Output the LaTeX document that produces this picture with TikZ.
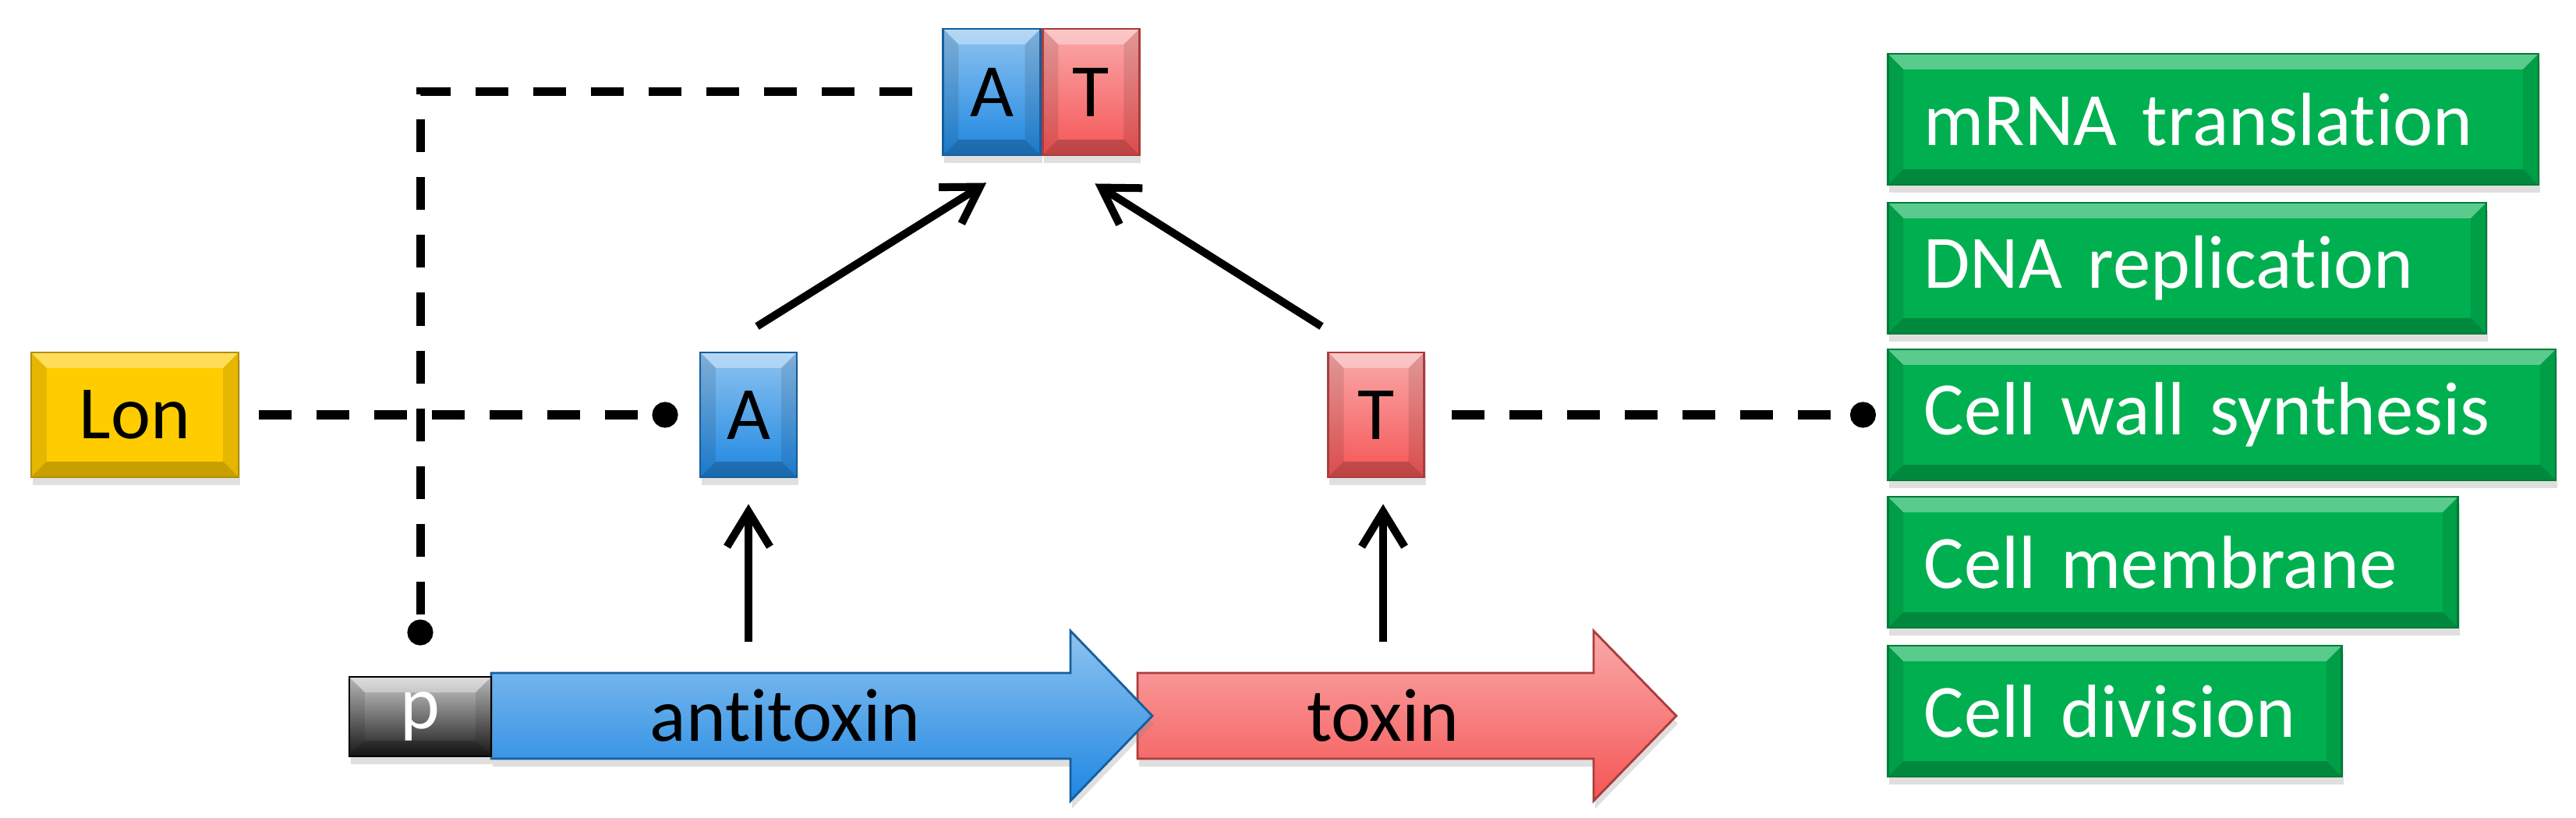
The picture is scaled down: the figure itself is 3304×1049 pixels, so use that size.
\documentclass[tikz,border=0pt]{standalone}
\usepackage{fontspec}
\setmainfont{Carlito}[Ligatures={TeX,NoCommon}]
\usetikzlibrary{arrows.meta,positioning,shadows}
\definecolor{atxblue}{RGB}{30,135,225}
\definecolor{txred}{RGB}{245,85,85}
\definecolor{lonyellow}{RGB}{255,204,0}
\definecolor{hitgreen}{RGB}{0,176,80}
\tikzset{
  bevel/.style={path picture={
      \fill[white,opacity=.35] (path picture bounding box.north west) -- (path picture bounding box.north east)
        -- ([shift={(-.2cm,-.2cm)}]path picture bounding box.north east)
        -- ([shift={(.2cm,-.2cm)}]path picture bounding box.north west) -- cycle;
      \fill[black,opacity=.22] (path picture bounding box.south west) -- (path picture bounding box.south east)
        -- ([shift={(-.2cm,.2cm)}]path picture bounding box.south east)
        -- ([shift={(.2cm,.2cm)}]path picture bounding box.south west) -- cycle;
      \fill[black,opacity=.1] (path picture bounding box.north west) -- ([shift={(.2cm,-.2cm)}]path picture bounding box.north west)
        -- ([shift={(.2cm,.2cm)}]path picture bounding box.south west) -- (path picture bounding box.south west) -- cycle;
      \fill[black,opacity=.1] (path picture bounding box.north east) -- ([shift={(-.2cm,-.2cm)}]path picture bounding box.north east)
        -- ([shift={(-.2cm,.2cm)}]path picture bounding box.south east) -- (path picture bounding box.south east) -- cycle;
  }}
}
\newcommand\gene[4]{
  \shadedraw[top color=#4!50!white,bottom color=#4,draw=#4!70!black,line width=.8pt,
    drop shadow={shadow xshift=.02cm,shadow yshift=-.1cm,opacity=.25}]
    (#1,863) -- (#2,863) -- (#2,809) -- (#3,918) -- (#2,1027) -- (#2,973) -- (#1,973) -- cycle;
}

\begin{document}
\begin{tikzpicture}[x=.01cm,y=-.01cm,font=\fontsize{27.5}{33}\selectfont,
    box/.style={bevel,minimum height=1.6cm,inner sep=0pt,line width=.8pt,
      drop shadow={shadow xshift=.02cm,shadow yshift=-.1cm,opacity=.25}},
    shadebox/.style={box,top color=#1!50!white,bottom color=#1,draw=#1!70!black},
    flatbox/.style={box,fill=#1,draw=#1!70!black},
    target/.style={flatbox=hitgreen,anchor=west,minimum height=1.68cm,text=white,
      align=left,text width=#1,inner xsep=.46cm},
    prod/.style={line width=.1cm,-{Straight Barb[length=.45cm,width=.55cm]}},
    inhib/.style={line width=.11cm,dash pattern=on .42cm off .32cm,-{Circle[length=.33cm]}}]
  \useasboundingbox (0,0) rectangle (3304,1049);

  % operon
  \gene{1459}{2044}{2150}{txred}
  \gene{630}{1373}{1478}{atxblue}
  \node[box,top color=black!20,bottom color=black!90,draw=black,minimum width=1.82cm,
    minimum height=1.02cm,text=white] (p) at (539,919) {p};
  \node (atxlbl) at (1007,918) {antitoxin};
  \node (txlbl) at (1774,918) {toxin};
  \coordinate (atxup) at (960,863);
  \coordinate (txup) at (1774,863);

  % proteins
  \node[flatbox=lonyellow,minimum width=2.66cm] (lon) at (173,532) {Lon};
  \node[shadebox=atxblue,minimum width=1.24cm] (amono) at (960,532) {A};
  \node[shadebox=txred,minimum width=1.23cm] (tmono) at (1765,532) {T};
  \node[shadebox=atxblue,minimum width=1.25cm,minimum height=1.62cm] (atA) at (1272,118) {A};
  \node[shadebox=txred,minimum width=1.24cm,minimum height=1.62cm,right=0pt of atA] (atT) {T};

  % targets
  \foreach \txt/\tw/\yy [count=\i] in {mRNA translation/7.42/153,DNA replication/6.75/344,
      Cell wall synthesis/7.64/532,Cell membrane/6.39/721,Cell division/4.9/912}
    \node[target=\tw cm] (hit\i) at (2420,\yy) {\txt};

  \draw[prod,shorten <=.4cm,shorten >=.33cm] (atxup) -- (amono);
  \draw[prod,shorten <=.4cm,shorten >=.33cm] (txup) -- (txup |- tmono.south);
  \draw[prod] ([xshift=.11cm,yshift=.32cm]amono.north) -- ([xshift=-.07cm,yshift=-.34cm]atA.south);
  \draw[prod] ([xshift=-.7cm,yshift=.32cm]tmono.north) -- ([xshift=.05cm,yshift=-.35cm]atT.south);

  \draw[inhib,shorten <=.24cm,shorten >=.27cm] (lon) -- (amono);
  \draw[inhib,shorten <=.34cm,shorten >=.14cm] (tmono) -- (hit3);
  \draw[inhib,shorten <=.38cm,shorten >=.39cm] (atA.west) -| (p.north);
\end{tikzpicture}
\end{document}
